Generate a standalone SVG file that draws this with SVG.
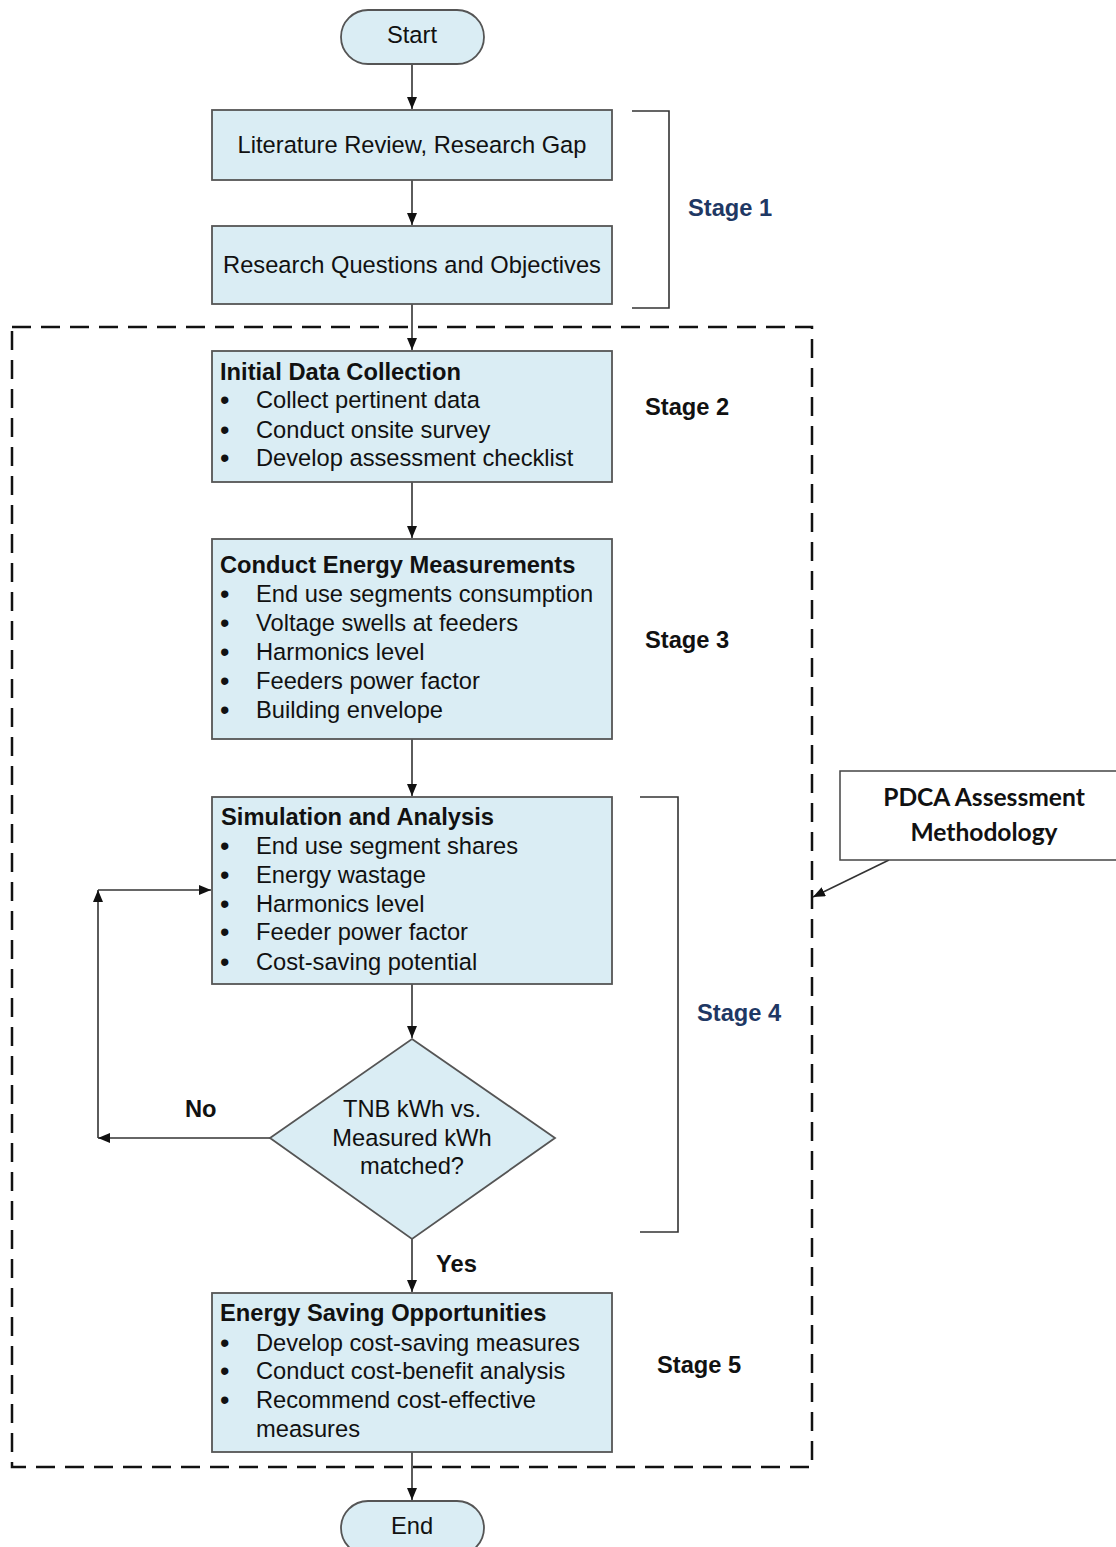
<svg xmlns="http://www.w3.org/2000/svg" width="1116" height="1547" viewBox="0 0 1116 1547">
  <defs>
    <marker id="arrow" markerUnits="userSpaceOnUse" markerWidth="14" markerHeight="12" refX="12" refY="5" orient="auto">
      <path d="M0,0 L12,5 L0,10 Z" fill="#111"/>
    </marker>
    <style>
      .box { fill: #daedf4; stroke: #555; stroke-width: 1.8; }
      .conn { stroke: #333; stroke-width: 1.6; fill: none; }
      .brk { stroke: #333; stroke-width: 1.6; fill: none; }
      .txt { font-family: "Liberation Sans", Arial, sans-serif; font-size: 23.7px; fill: #111; }
      .bul { font-family: "Liberation Sans", Arial, sans-serif; font-size: 27px; fill: #111; }
      .b { font-weight: bold; }
      .c { text-anchor: middle; }
      .blue { fill: #1f3864; }
      .pdca { font-family: Lato, "Open Sans", sans-serif; font-size: 24.6px; font-weight: bold; fill: #111; text-anchor: middle; }
    </style>
  </defs>

  <!-- PDCA dashed boundary -->
  <rect x="12" y="327" width="800" height="1140" fill="none" stroke="#111" stroke-width="2.5" stroke-dasharray="19,10"/>

  <!-- stage brackets -->
  <g id="bracket-stage1"><path class="brk" d="M632,111 H669 V308 H632"/></g>
  <g id="bracket-stage4"><path class="brk" d="M640,797 H678 V1232 H640"/></g>

  <!-- connectors -->
  <g id="connectors">
    <line class="conn" x1="412" y1="64" x2="412" y2="109" marker-end="url(#arrow)"/>
    <line class="conn" x1="412" y1="180" x2="412" y2="225" marker-end="url(#arrow)"/>
    <line class="conn" x1="412" y1="304" x2="412" y2="350" marker-end="url(#arrow)"/>
    <line class="conn" x1="412" y1="482" x2="412" y2="538" marker-end="url(#arrow)"/>
    <line class="conn" x1="412" y1="739" x2="412" y2="796" marker-end="url(#arrow)"/>
    <line class="conn" x1="412" y1="984" x2="412" y2="1038" marker-end="url(#arrow)"/>
    <line class="conn" x1="412" y1="1239" x2="412" y2="1292" marker-end="url(#arrow)"/>
    <line class="conn" x1="412" y1="1452" x2="412" y2="1500" marker-end="url(#arrow)"/>
    <!-- "No" loop back to Simulation and Analysis -->
    <line class="conn" x1="270" y1="1138" x2="98" y2="1138" marker-end="url(#arrow)"/>
    <line class="conn" x1="98" y1="1138" x2="98" y2="890" marker-end="url(#arrow)"/>
    <line class="conn" x1="98" y1="890" x2="211" y2="890" marker-end="url(#arrow)"/>
    <!-- callout pointer -->
    <line class="conn" x1="889" y1="860" x2="813" y2="897" stroke-width="1.3" marker-end="url(#arrow)"/>
  </g>

  <g id="start">
    <rect class="box" x="341" y="10" width="143" height="54" rx="27"/>
    <text class="txt c" x="412" y="43">Start</text>
  </g>

  <g id="literature-review">
    <rect class="box" x="212" y="110" width="400" height="70"/>
    <text class="txt c" x="412" y="153">Literature Review, Research Gap</text>
  </g>

  <g id="research-questions">
    <rect class="box" x="212" y="226" width="400" height="78"/>
    <text class="txt c" x="412" y="273">Research Questions and Objectives</text>
  </g>

  <g id="initial-data">
    <rect class="box" x="212" y="351" width="400" height="131"/>
    <text class="txt b" x="220" y="380">Initial Data Collection</text>
    <text class="bul" x="220" y="409">•</text><text class="txt" x="256" y="408">Collect pertinent data</text>
    <text class="bul" x="220" y="439">•</text><text class="txt" x="256" y="438">Conduct onsite survey</text>
    <text class="bul" x="220" y="467">•</text><text class="txt" x="256" y="466">Develop assessment checklist</text>
  </g>

  <g id="energy-measurements">
    <rect class="box" x="212" y="539" width="400" height="200"/>
    <text class="txt b" x="220" y="573">Conduct Energy Measurements</text>
    <text class="bul" x="220" y="603">•</text><text class="txt" x="256" y="602">End use segments consumption</text>
    <text class="bul" x="220" y="632">•</text><text class="txt" x="256" y="631">Voltage swells at feeders</text>
    <text class="bul" x="220" y="661">•</text><text class="txt" x="256" y="660">Harmonics level</text>
    <text class="bul" x="220" y="690">•</text><text class="txt" x="256" y="689">Feeders power factor</text>
    <text class="bul" x="220" y="719">•</text><text class="txt" x="256" y="718">Building envelope</text>
  </g>

  <g id="simulation-analysis">
    <rect class="box" x="212" y="797" width="400" height="187"/>
    <text class="txt b" x="221" y="825">Simulation and Analysis</text>
    <text class="bul" x="220" y="855">•</text><text class="txt" x="256" y="854">End use segment shares</text>
    <text class="bul" x="220" y="884">•</text><text class="txt" x="256" y="883">Energy wastage</text>
    <text class="bul" x="220" y="913">•</text><text class="txt" x="256" y="912">Harmonics level</text>
    <text class="bul" x="220" y="941">•</text><text class="txt" x="256" y="940">Feeder power factor</text>
    <text class="bul" x="220" y="971">•</text><text class="txt" x="256" y="970">Cost-saving potential</text>
  </g>

  <g id="decision">
    <polygon class="box" points="412,1039 555,1138 412,1239 270,1138"/>
    <text class="txt c" x="412" y="1117">TNB kWh vs.</text>
    <text class="txt c" x="412" y="1146">Measured kWh</text>
    <text class="txt c" x="412" y="1174">matched?</text>
  </g>

  <g id="saving-opportunities">
    <rect class="box" x="212" y="1293" width="400" height="159"/>
    <text class="txt b" x="220" y="1321">Energy Saving Opportunities</text>
    <text class="bul" x="220" y="1352">•</text><text class="txt" x="256" y="1351">Develop cost-saving measures</text>
    <text class="bul" x="220" y="1380">•</text><text class="txt" x="256" y="1379">Conduct cost-benefit analysis</text>
    <text class="bul" x="220" y="1409">•</text><text class="txt" x="256" y="1408">Recommend cost-effective</text>
    <text class="txt" x="256" y="1437">measures</text>
  </g>

  <g id="end">
    <rect class="box" x="341" y="1501" width="143" height="54" rx="27"/>
    <text class="txt c" x="412" y="1534">End</text>
  </g>

  <g id="pdca-callout">
    <rect x="840" y="771" width="290" height="89" fill="#fff" stroke="#444" stroke-width="1.5"/>
    <text class="pdca" x="984" y="806">PDCA Assessment</text>
    <text class="pdca" x="984" y="841">Methodology</text>
  </g>

  <g id="labels">
    <text class="txt b blue" x="688" y="216">Stage 1</text>
    <text class="txt b" x="645" y="415">Stage 2</text>
    <text class="txt b" x="645" y="648">Stage 3</text>
    <text class="txt b blue" x="697" y="1021">Stage 4</text>
    <text class="txt b" x="657" y="1373">Stage 5</text>
    <text class="txt b" x="185" y="1117">No</text>
    <text class="txt b" x="436" y="1272">Yes</text>
  </g>
</svg>
